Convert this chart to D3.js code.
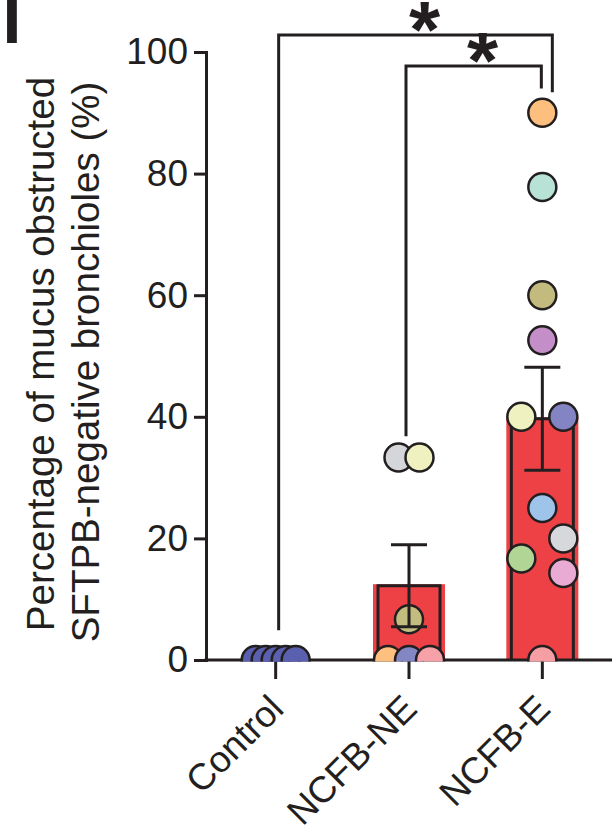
<!DOCTYPE html>
<html>
<head>
<meta charset="utf-8">
<script src="https://cdn.jsdelivr.net/npm/d3@7"></script>
<style>
  html, body { margin: 0; padding: 0; background: #fff; }
  svg { display: block; }
  text { font-family: "Liberation Sans", Arial, Helvetica, sans-serif; }
</style>
</head>
<body>
<svg id="chart" width="616" height="836"></svg>
<script>
// ---- data ----
const groups = ["Control", "NCFB-NE", "NCFB-E"];

// percentage of mucus-obstructed SFTPB-negative bronchioles, one value per subject
const controlValues = [0, 0, 0, 0, 0];
const ncfbNeValues = [33.3, 33.3, 6.7, 0, 0, 0];
const ncfbEValues = [90, 77.8, 60, 52.6, 40, 40, 25, 20, 16.7, 14.3, 0];

// subject colours
const controlColors = ["#5a5fae", "#5a5fae", "#5a5fae", "#5a5fae", "#5a5fae"];
const ncfbNeColors = ["#d5d6d9", "#eff1c1", "#c2bc7e", "#fdc07f", "#8286c2", "#f5a1a7"];
const ncfbEColors = ["#fdbf7e", "#b9e2d6", "#c3bb7e", "#c48fc9", "#eff2c0", "#8384c3",
                     "#9ec4e9", "#d7d8db", "#b0d595", "#e9abd4", "#f59fa5"];

// swarm column of each dot (in dot-slot units, 0 = centred on the group)
const controlSlots = [-1, -0.5, 0, 0.5, 1];
const ncfbNeSlots = [-0.5, 0.5, 0, -1, 0, 1];
const ncfbESlots = [0, 0, 0, 0, -1, 1, 0, 1, -1, 1, 0];

const yTicks = [0, 20, 40, 60, 80, 100];

// significance brackets: level and leg ends in axis units
const comparisons = [
  { from: "Control", to: "NCFB-E", level: 102.8, fromEnd: 4.9, toEnd: 93.4, mark: "*" },
  { from: "NCFB-NE", to: "NCFB-E", level: 97.7, fromEnd: 36.8, toEnd: 94.0, mark: "*" }
];

// ---- drawing ----
const ink = "#231f20";
const barRed = "#ee4146";
const svg = d3.select("#chart");

const x = d3.scaleBand().domain(groups).range([209, 609]);
const y = d3.scaleLinear().domain([0, 100]).range([660, 52]);
const cx = g => x(g) + x.bandwidth() / 2;

const valuesByGroup = [controlValues, ncfbNeValues, ncfbEValues];
const colorsByGroup = [controlColors, ncfbNeColors, ncfbEColors];
const slotsByGroup = [controlSlots, ncfbNeSlots, ncfbESlots];

const stats = groups.map((g, i) => {
  const v = valuesByGroup[i];
  const m = d3.mean(v);
  const sd = d3.deviation(v) || 0;
  return { g, m, sem: sd / Math.sqrt(v.length) };
});

// panel letter (cropped at the top edge)
svg.append("text")
  .attr("x", 2.5).attr("y", 43)
  .attr("font-size", 68).attr("font-weight", "bold")
  .attr("fill", ink).text("I");

// bars
const barData = stats.filter(d => d.m > 0);
svg.append("g").selectAll("rect").data(barData).join("rect")
  .attr("x", d => cx(d.g) - 36)
  .attr("width", 72)
  .attr("y", d => y(d.m) - 1.5)
  .attr("height", d => y(0) - y(d.m) + 1.5)
  .attr("fill", barRed);
svg.append("g").selectAll("path").data(barData).join("path")
  .attr("d", d => `M${cx(d.g) - 31},${y(0)}V${y(d.m)}H${cx(d.g) + 31}V${y(0)}`)
  .attr("fill", "none").attr("stroke", ink).attr("stroke-width", 3);

// y axis
const yAxis = svg.append("g")
  .attr("transform", "translate(206,0)")
  .call(d3.axisLeft(y).tickValues(yTicks).tickSize(12).tickPadding(6).tickSizeOuter(0));
yAxis.select(".domain").attr("stroke", ink).attr("stroke-width", 3).attr("stroke-linecap", "square");
yAxis.selectAll(".tick line").attr("stroke", ink).attr("stroke-width", 3);
yAxis.selectAll(".tick text")
  .attr("fill", ink).attr("font-size", 37)
  .style("font-family", "'Liberation Sans', Arial, sans-serif");

// x axis
const xAxis = svg.append("g")
  .attr("transform", `translate(0,${y(0)})`)
  .call(d3.axisBottom(x).tickSize(19).tickSizeOuter(0).tickFormat(""));
xAxis.select(".domain").attr("d", "M204.5,0H612").attr("stroke", ink).attr("stroke-width", 3);
xAxis.selectAll(".tick line").attr("stroke", ink).attr("stroke-width", 3);

svg.append("g").selectAll("text").data(groups).join("text")
  .attr("transform", g => `translate(${cx(g) + 1},702) rotate(-45)`)
  .attr("text-anchor", "end")
  .attr("dominant-baseline", "central")
  .attr("font-size", 37)
  .attr("fill", ink)
  .text(g => g);

// y axis title
const titleLines = ["Percentage of mucus obstructed", "SFTPB-negative bronchioles (%)"];
svg.append("g").selectAll("text").data(titleLines).join("text")
  .attr("transform", (t, i) => `translate(${54 + i * 45},${354 + i * 8}) rotate(-90)`)
  .attr("text-anchor", "middle")
  .attr("font-size", 38.5)
  .attr("fill", ink)
  .text(t => t);

// subject dots (clipped at the baseline)
svg.append("clipPath").attr("id", "plot-clip")
  .append("rect").attr("x", 0).attr("y", 0).attr("width", 616).attr("height", y(0) + 1.5);

const slotWidth = 21;
const dots = [];
groups.forEach((g, i) => {
  valuesByGroup[i].forEach((v, j) => {
    dots.push({ g, v, color: colorsByGroup[i][j], slot: slotsByGroup[i][j], ctrl: g === "Control" });
  });
});
svg.append("g").attr("clip-path", "url(#plot-clip)")
  .selectAll("circle").data(dots).join("circle")
  .attr("cx", d => cx(d.g) + d.slot * (d.ctrl ? 20 : slotWidth))
  .attr("cy", d => y(d.v))
  .attr("r", 14)
  .attr("fill", d => d.color)
  .attr("stroke", ink)
  .attr("stroke-width", 2.5);

// error bars (mean ± SEM)
const errData = stats.filter(d => d.sem > 0);
svg.append("g").selectAll("path").data(errData).join("path")
  .attr("d", d => {
    const c = cx(d.g), lo = y(d.m - d.sem), hi = y(d.m + d.sem);
    return `M${c},${lo}V${hi}M${c - 18},${hi}H${c + 18}M${c - 18},${lo}H${c + 18}`;
  })
  .attr("fill", "none").attr("stroke", ink).attr("stroke-width", 3);

// significance brackets
const legNudge = [[3, 10], [-3, -1]];
const br = svg.append("g");
comparisons.forEach((c, i) => {
  const x1 = cx(c.from) + legNudge[i][0];
  const x2 = cx(c.to) + legNudge[i][1];
  br.append("path")
    .attr("d", `M${x1},${y(c.fromEnd)}V${y(c.level)}H${x2}V${y(c.toEnd)}`)
    .attr("fill", "none").attr("stroke", ink).attr("stroke-width", 3)
    .attr("stroke-linejoin", "miter");
  br.append("text")
    .attr("x", (x1 + x2) / 2 + 9)
    .attr("y", y(c.level) + 22)
    .attr("text-anchor", "middle")
    .attr("font-size", 80).attr("font-weight", "bold")
    .attr("fill", ink)
    .text(c.mark);
});
</script>
</body>
</html>
